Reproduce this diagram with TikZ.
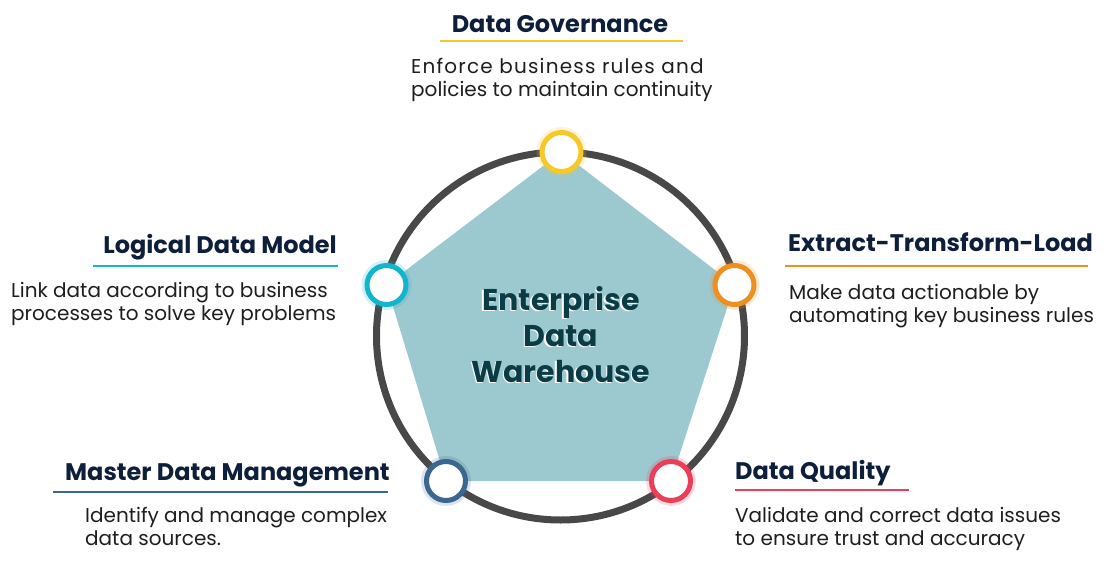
\documentclass[tikz,border=0pt]{standalone}
\usepackage{fontspec}
\setmainfont{Poppins}
\usetikzlibrary{calc}
\usetikzlibrary{backgrounds}

\definecolor{headnavy}{HTML}{0E1F3B}
\definecolor{bodyink}{HTML}{1E1E1E}
\definecolor{ringgray}{HTML}{484848}
\definecolor{pentafill}{HTML}{9CC8CF}
\definecolor{centerink}{HTML}{0B3C46}
\definecolor{govyellow}{HTML}{F6C92B}
\definecolor{ldmcyan}{HTML}{13B4CD}
\definecolor{etlorange}{HTML}{EF8F20}
\definecolor{mdmblue}{HTML}{3B6690}
\definecolor{dqred}{HTML}{EC3D59}

\tikzset{
 head/.style={font=\bfseries\fontsize{24}{27}\selectfont, text=headnavy, inner sep=0},
 body/.style={font=\fontsize{20}{23}\selectfont, text=bodyink, align=left, inner sep=0},
 dot/.style={circle, draw=#1, line width=5, fill=white, minimum size=39, inner sep=0},
 halo/.style={circle, fill=#1, opacity=.18, minimum size=50, inner sep=0},
 uline/.style={#1, line width=2.5},
 bigtext/.style={font=\bfseries\fontsize{30}{36}\selectfont, align=center, inner sep=0}
}

\begin{document}
\begin{tikzpicture}[x=1pt, y=-1pt]
\useasboundingbox (0,0) rectangle (1112,562);
\coordinate (mid) at (560.5,336);
\draw[ringgray, line width=7] (mid) circle (184);

\foreach \name/\pos/\col in {gov/{(561.5,152)}/govyellow, ldm/{(386.5,285)}/ldmcyan, etl/{(734.5,285)}/etlorange, mdm/{(446,481)}/mdmblue, dq/{(671,481)}/dqred} {
 \node[halo=\col] at \pos {};
 \node[dot=\col] (\name) at \pos {};
}
\begin{scope}[on background layer]
 \fill[pentafill] (gov.center) -- (etl.center) -- (dq.center) -- (mdm.center) -- (ldm.center) -- cycle;
\end{scope}

\node[bigtext, text=white, anchor=base] at ($(561,382)+(-1.5,1.5)$) {Enterprise\\Data\\Warehouse};
\node[bigtext, text=centerink, anchor=base] (edw) at (561,382) {Enterprise\\Data\\Warehouse};

\node[head, anchor=base] (govhead) at (560,32) {Data Governance};
\draw[uline=govyellow] (440,41) -- (683,41);
\node[body, anchor=base west] (govtext) at (411,96.5) {{\addfontfeature{LetterSpace=6}Enforce business rules and}\\policies to maintain continuity};

\node[head, anchor=base east] (ldmhead) at (337,253) {Logical Data Model};
\draw[uline=ldmcyan] (93,266) -- (338,266);
\node[body, anchor=base west] (ldmtext) at (11,320.5) {Link data according to business\\processes to solve key problems};

\node[head, anchor=base west] (etlhead) at (788,251) {Extract-Transform-Load};
\draw[uline=etlorange] (785,266) -- (1088,266);
\node[body, anchor=base west] (etltext) at (789,322) {Make data actionable by\\automating key business rules};

\node[head, anchor=base west] (mdmhead) at (65,480) {Master Data Management};
\draw[uline=mdmblue] (53,492) -- (388,492);
\node[body, anchor=base west] (mdmtext) at (85,545) {Identify and manage complex\\data sources.};

\node[head, anchor=base west] (dqhead) at (735,479.5) {Data Quality};
\draw[uline=dqred] (735,490) -- (909,490);
\node[body, anchor=base west] (dqtext) at (735,545) {Validate and correct data issues\\to ensure trust and accuracy};
\end{tikzpicture}
\end{document}
